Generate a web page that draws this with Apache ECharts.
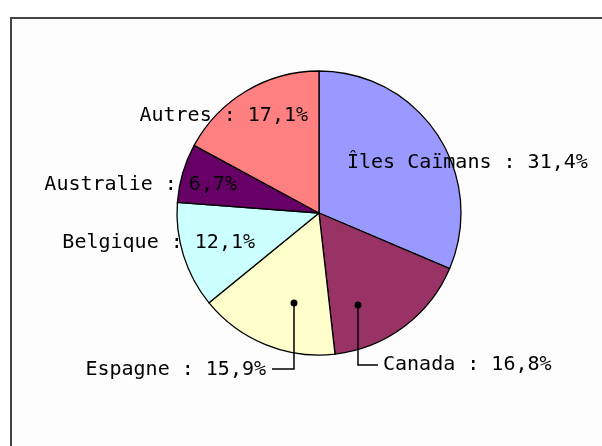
<!DOCTYPE html>
<html>
<head>
<meta charset="utf-8">
<script src="https://cdn.jsdelivr.net/npm/echarts@6/dist/echarts.min.js"></script>
<style>
  html, body { margin: 0; padding: 0; background: #fff; }
  #chart { width: 602px; height: 446px; }
</style>
</head>
<body>
<div id="chart"></div>
<script>
const countries = ['Îles Caïmans', 'Canada', 'Espagne', 'Belgique', 'Australie', 'Autres'];
const shares = [31.4, 16.8, 15.9, 12.1, 6.7, 17.1];
const colors = ['#9999FF', '#993366', '#FFFFCC', '#CCFFFF', '#660066', '#FF8080'];

// label anchors (pixels), leader lines only for Canada / Espagne
const labelPos = [
  {x: 347, y: 163, align: 'left'},
  {x: 383, y: 365, align: 'left', line: [[358, 305], [358, 365], [378, 365]]},
  {x: 266, y: 370, align: 'right', line: [[294, 303], [294, 369], [272, 369]]},
  {x: 255, y: 243, align: 'right'},
  {x: 237, y: 185, align: 'right'},
  {x: 308, y: 116, align: 'right'}
];

const pieData = [];
const labelData = [];
for (var i = 0; i < countries.length; i++) {
  pieData.push({
    name: countries[i],
    value: shares[i],
    itemStyle: {color: colors[i]}
  });
  labelData.push({
    name: countries[i],
    value: shares[i],
    labelLine: {show: !!labelPos[i].line}
  });
}

const dots = [];
labelPos.forEach(function (p) {
  if (p.line) {
    dots.push({
      type: 'circle',
      z: 100,
      shape: {cx: p.line[0][0], cy: p.line[0][1], r: 3.5},
      style: {fill: '#000'}
    });
  }
});

let myChart = echarts.init(document.getElementById('chart'));
myChart.setOption({
  animation: false,
  backgroundColor: '#fff',
  graphic: [
    {
      type: 'rect',
      z: -10,
      shape: {x: 11, y: 18, width: 640, height: 480},
      style: {fill: '#fdfdfd', stroke: '#444', lineWidth: 2}
    }
  ].concat(dots),
  series: [
    {
      type: 'pie',
      center: [319, 213],
      radius: 142,
      startAngle: 90,
      clockwise: true,
      silent: true,
      itemStyle: {borderColor: '#000', borderWidth: 1.3},
      label: {show: false},
      labelLine: {show: false},
      data: pieData
    },
    {
      // same slices, transparent, only to carry the labels above the pie
      type: 'pie',
      z: 5,
      center: [319, 213],
      radius: 142,
      startAngle: 90,
      clockwise: true,
      silent: true,
      itemStyle: {color: 'rgba(0,0,0,0)', borderWidth: 0},
      label: {
        show: true,
        position: 'outside',
        overflow: 'none',
        color: '#000',
        fontFamily: 'DejaVu Sans Mono',
        fontSize: 20,
        formatter: function (p) {
          return p.name + ' : ' + p.value.toFixed(1).replace('.', ',') + '%';
        }
      },
      labelLine: {lineStyle: {color: '#000', width: 1.5}},
      labelLayout: function (params) {
        var p = labelPos[params.dataIndex];
        var res = {x: p.x, y: p.y, align: p.align, verticalAlign: 'middle', width: 400};
        if (p.line) res.labelLinePoints = p.line;
        return res;
      },
      data: labelData
    }
  ]
});
</script>
</body>
</html>
